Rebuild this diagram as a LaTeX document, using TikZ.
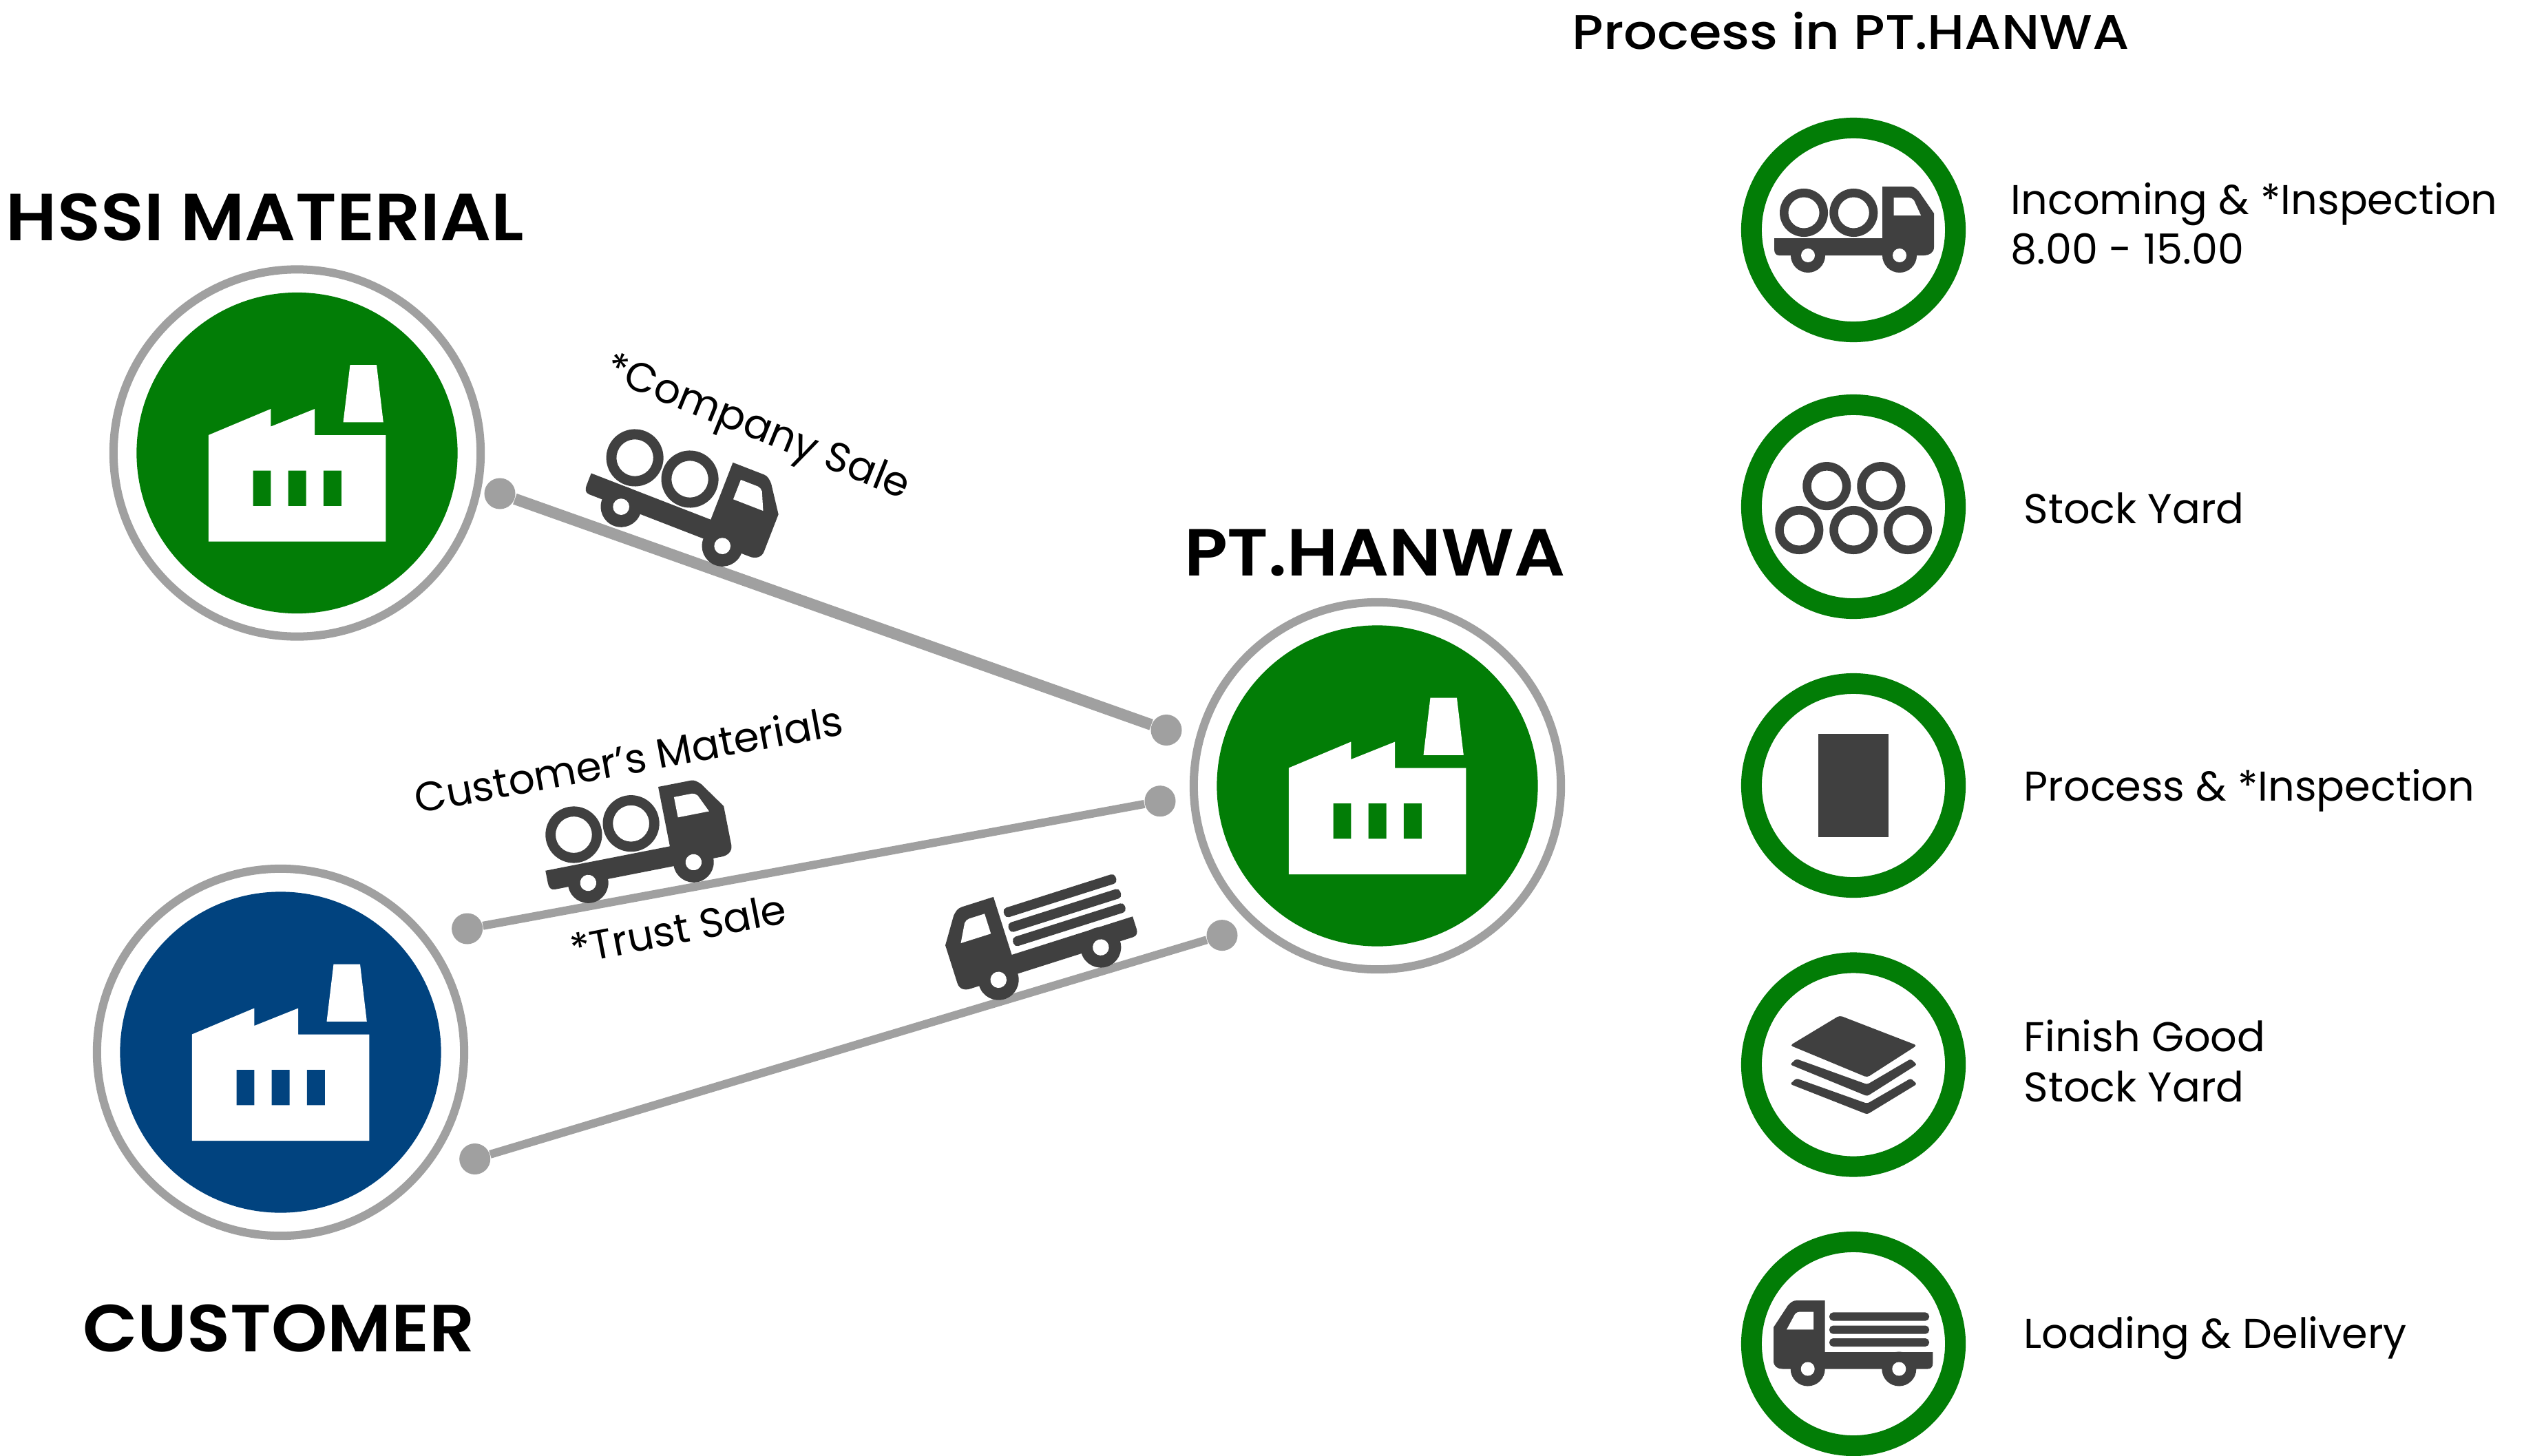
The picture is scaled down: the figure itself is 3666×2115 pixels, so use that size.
\documentclass[tikz,border=0pt]{standalone}
\usepackage{fontspec}
\setmainfont{Poppins}
\newfontfamily\semib[FakeStretch=1.07]{Poppins SemiBold}
\newfontfamily\medf[FakeStretch=1.09]{Poppins Medium}
\definecolor{ringgray}{HTML}{A0A0A0}
\definecolor{iconDark}{HTML}{404040}
\definecolor{leafgreen}{HTML}{027D06}
\definecolor{navyblue}{HTML}{01437F}
\tikzset{
  ringnode/.style={circle,draw=ringgray,line width=.12cm,fill=white,minimum size=5.33cm,inner sep=0pt},
  disknode/.style={circle,fill=#1,minimum size=4.66cm,inner sep=0pt},
  procring/.style={circle,draw=leafgreen,line width=.30cm,fill=white,minimum size=2.96cm,inner sep=0pt},
  dotnode/.style={circle,fill=ringgray,minimum size=.45cm,inner sep=0pt},
  connA/.style={draw=ringgray,line width=.165cm},
  connB/.style={draw=ringgray,line width=.12cm},
  bigtitle/.style={font=\semib\fontsize{27.5}{30}\selectfont,inner sep=0pt},
  headtitle/.style={font=\medf\fontsize{20}{22}\selectfont,inner sep=0pt},
  steplabel/.style={font=\fontsize{17.2}{20.7}\selectfont,inner sep=0pt,anchor=west,align=left},
  sloped label/.style={font=\fontsize{17}{20}\selectfont,inner sep=0pt},
  factory/.pic={
    \fill[white] (-128.7,-26) -- (-38.2,-64) -- (-38.2,-38.4) -- (25.7,-64) -- (25.7,-26) -- (128.9,-26) -- (128.9,128.6) -- (-128.7,128.6) -- cycle;
    \fill[white] (77,-128) -- (115.5,-128) -- (125.3,-44.6) -- (67,-44.6) -- cycle;
    \fill[pic actions] (-64,25.5) rectangle (-38.2,76.8) (-12.9,25.5) rectangle (13.1,76.8) (38.3,25.5) rectangle (64.3,76.8);
  },
  pipering/.pic={\fill[iconDark,even odd rule] (0,0) circle[radius=.35cm] (0,0) circle[radius=.225cm];},
  truckpipes/.pic={
    \fill[iconDark] (-115,12) -- (42,12) -- (42,-63) -- (83,-63) .. controls (88,-63) and (91,-60) .. (95,-56) -- (117,-24) -- (117,25) .. controls (117,33) and (110,37) .. (103,37) -- (-108,37) .. controls (-113,37) and (-115,33) .. (-115,28) -- cycle;
    \fill[iconDark] (-66,37) circle[radius=.25cm] (67,37) circle[radius=.25cm];
    \fill[white] (-66,37) circle[radius=.1cm] (67,37) circle[radius=.1cm];
    \fill[white] (58.7,-46.8) -- (81.3,-46.8) .. controls (84,-46.8) and (86,-45) .. (88,-43) -- (98,-21.2) -- (58.7,-21.2) -- cycle;
    \fill[iconDark,even odd rule] (-72,-25) circle[radius=.35cm] (-72,-25) circle[radius=.225cm];
    \fill[iconDark,even odd rule] (0.3,-25) circle[radius=.35cm] (0.3,-25) circle[radius=.225cm];
  },
  truckbeams/.pic={
    \fill[iconDark] (115.3,12) -- (-41.3,12) -- (-41.3,-63) -- (-82,-63) .. controls (-88,-63) and (-91,-60) .. (-95,-56) -- (-116,-24) -- (-116,25) .. controls (-116,33) and (-110,36.5) .. (-103,36.5) -- (108,36.5) .. controls (113,36.5) and (115.3,33) .. (115.3,28) -- cycle;
    \fill[iconDark] (-66.3,36.5) circle[radius=.25cm] (66.3,36.5) circle[radius=.25cm];
    \fill[white] (-66.3,36.5) circle[radius=.1cm] (66.3,36.5) circle[radius=.1cm];
    \fill[white] (-97,-20.7) -- (-85,-43) .. controls (-83,-45) and (-81,-46.5) .. (-78,-46.5) -- (-58,-46.5) -- (-58,-20.7) -- cycle;
    \fill[iconDark,rounded corners=.055cm] (-35,-45.6) rectangle (110,-33.4) (-35,-26.5) rectangle (110,-14.3) (-35,-8) rectangle (110,4);
  }
}
\begin{document}
\begin{tikzpicture}[x=0.01cm,y=-0.01cm]
\path[use as bounding box,fill=white] (0,0) rectangle (3666,2115);

% factories
\node[ringnode] (hssiring) at (431.5,658) {};
\node[disknode=leafgreen] (hssidisk) at (431.5,658) {};
\pic[fill=leafgreen] at (431.5,658) {factory};
\node[ringnode] (custring) at (407.5,1528.5) {};
\node[disknode=navyblue] (custdisk) at (407.5,1528.5) {};
\pic[fill=navyblue] at (407.5,1528.5) {factory};
\node[ringnode] (hanwaring) at (2000.5,1141.5) {};
\node[disknode=leafgreen] (hanwadisk) at (2000.5,1141.5) {};
\pic[fill=leafgreen] at (2000.5,1141.5) {factory};

% connectors
\node[dotnode] (a1) at (726,717) {};
\node[dotnode] (a2) at (1694,1060.5) {};
\node[dotnode] (b1) at (678.6,1349) {};
\node[dotnode] (b2) at (1685,1163.7) {};
\node[dotnode] (c1) at (689.7,1683.5) {};
\node[dotnode] (c2) at (1775,1358.6) {};
\draw[connA] (a1) -- (a2);
\draw[connB] (b1) -- (b2);
\draw[connB] (c1) -- (c2);

% trucks on routes
\pic[rotate=-21.2,scale=1.186] at (991,723.5) {truckpipes};
\pic[rotate=11.1,scale=1.173] at (921.9,1225) {truckpipes};
\pic[rotate=17.6,scale=1.176] at (1511.6,1358.8) {truckbeams};

% titles
\node[bigtitle] (t1) at (385,316) {HSSI MATERIAL};
\node[bigtitle] (t2) at (1997,803) {PT.HANWA};
\node[bigtitle] (t3) at (405,1930) {CUSTOMER};
\node[headtitle] (t4) at (2688,45) {Process in PT.HANWA};

% route labels
\node[sloped label,rotate=-22] (l1) at (1099,624) {*Company Sale};
\node[sloped label,rotate=10.5] (l2) at (913,1102) {Customer’s Materials};
\node[sloped label,rotate=11] (l3) at (985,1349) {*Trust Sale};

% process rings
\node[procring] (p1) at (2692,334) {};
\node[procring] (p2) at (2692,736) {};
\node[procring] (p3) at (2692,1141) {};
\node[procring] (p4) at (2692,1546.5) {};
\node[procring] (p5) at (2692,1952) {};

\pic at (2692,334) {truckpipes};
\pic at (-38.7+2692,-29.9+736) {pipering};
\pic at (40.3+2692,-29.9+736) {pipering};
\pic at (-78.7+2692,34+736) {pipering};
\pic at (0.3+2692,34+736) {pipering};
\pic at (79+2692,34+736) {pipering};
\fill[iconDark] (2641.3,1066) rectangle (2743,1216);
\begin{scope}[shift={(2692,1546.5)}]
\fill[iconDark,rounded corners=.04cm] (-20,-71.4) -- (92.3,-28) -- (20,18.5) -- (-92,-28) -- cycle;
\fill[iconDark,rounded corners=.03cm] (-83,-8.4) -- (20,28.7) -- (83.3,-8.4) -- (92.3,-0.1) -- (20,45.8) -- (-92,-0.1) -- cycle;
\fill[iconDark,rounded corners=.03cm] (-83,19.9) -- (20,56.5) -- (83.3,19.9) -- (92.3,28.2) -- (20,72.2) -- (-92,28.2) -- cycle;
\end{scope}
\pic at (2692,1952) {truckbeams};

% step labels
\node[steplabel] (s1) at (2920,325) {Incoming \& *Inspection\\8.00 - 15.00};
\node[steplabel] (s2) at (2939,738) {Stock Yard};
\node[steplabel] (s3) at (2939,1148) {Process \& *Inspection};
\node[steplabel] (s4) at (2939,1541) {Finish Good\\Stock Yard};
\node[steplabel] (s5) at (2939,1944) {Loading \& Delivery};
\end{tikzpicture}
\end{document}
